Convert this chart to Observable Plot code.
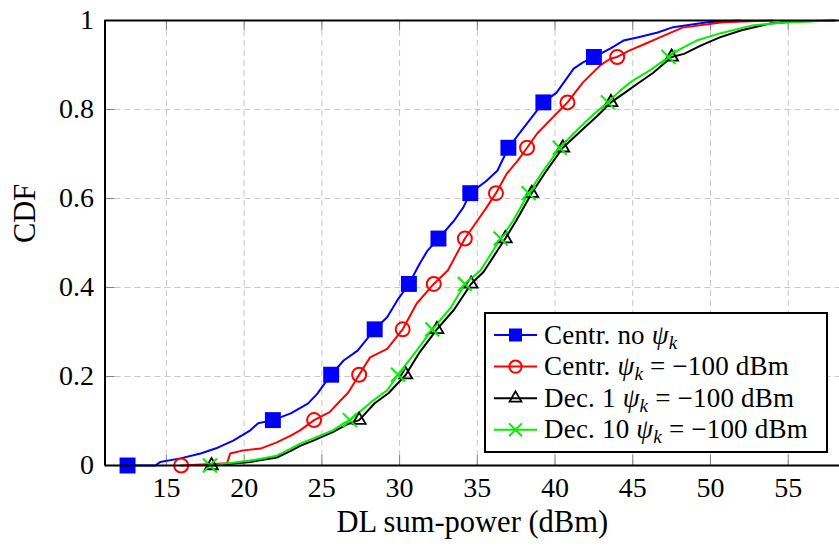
<!DOCTYPE html>
<html><head><meta charset="utf-8">
<script src="https://cdn.jsdelivr.net/npm/d3@7"></script>
<script src="https://cdn.jsdelivr.net/npm/@observablehq/plot@0.6"></script>
<style>
body{margin:0;background:#fff}
svg{font-family:"Liberation Serif",serif}
</style>
</head><body><div id="chart"></div>
<script>
// ---- data ----
const seriesNames = ["Centr. no psi", "Centr. psi=-100", "Dec. 1 psi=-100", "Dec. 10 psi=-100"];
const seriesColors = ["#0000ff", "#ff0000", "#000000", "#00f000"];
const xTicks = [15, 20, 25, 30, 35, 40, 45, 50, 55];
const yTicks = [0, 0.2, 0.4, 0.6, 0.8, 1];
const xDomain = [11.05, 58.3];

const centrNo = [[12.5,0],[14.3,0],[14.6,0.008],[15.9,0.016],[17.2,0.027],[18.3,0.04],[19.3,0.056],[20.4,0.079],[20.9,0.095],[21.85,0.102],[23.0,0.117],[24.1,0.139],[24.7,0.161],[25.3,0.19],[25.6,0.204],[26.4,0.236],[27.3,0.258],[28.4,0.306],[29.2,0.333],[29.85,0.371],[30.6,0.408],[31.3,0.454],[31.8,0.483],[32.5,0.51],[33.5,0.55],[34.1,0.58],[34.55,0.612],[35.6,0.64],[36.3,0.663],[37.0,0.714],[38.0,0.76],[39.25,0.816],[40.1,0.838],[41.2,0.892],[41.8,0.906],[42.5,0.918],[43.55,0.937],[44.4,0.955],[45.3,0.962],[46.6,0.973],[47.6,0.985],[49.8,0.996],[51.9,1.0]];
const centrPsi = [[15.95,0],[18.9,0.005],[19.1,0.027],[19.95,0.034],[21.05,0.038],[22.1,0.052],[23.0,0.067],[23.6,0.079],[24.5,0.102],[25.5,0.12],[26.2,0.146],[26.7,0.164],[27.4,0.204],[28.1,0.243],[29.2,0.262],[30.2,0.306],[31.1,0.364],[32.2,0.408],[33.1,0.438],[34.2,0.51],[35.0,0.55],[35.6,0.58],[36.2,0.612],[36.9,0.656],[37.6,0.685],[38.2,0.714],[38.85,0.746],[40.8,0.816],[41.8,0.861],[42.9,0.899],[43.55,0.914],[44.0,0.918],[44.8,0.933],[45.7,0.946],[47.0,0.966],[48.2,0.984],[50.8,0.996],[54.0,1.0]];
const dec1Psi = [[17.9,0],[20.4,0.008],[22.1,0.018],[23.0,0.033],[23.6,0.044],[24.45,0.056],[25.7,0.075],[26.6,0.092],[27.4,0.102],[28.4,0.14],[29.3,0.163],[30.4,0.204],[31.3,0.255],[32.4,0.306],[33.5,0.35],[34.6,0.408],[35.4,0.435],[36.8,0.51],[37.5,0.55],[38.5,0.612],[39.4,0.66],[40.5,0.714],[41.8,0.756],[42.7,0.785],[43.6,0.816],[44.5,0.838],[45.3,0.858],[46.3,0.882],[47.5,0.918],[48.3,0.925],[49.4,0.944],[50.6,0.962],[52.0,0.978],[53.8,0.993],[55.5,0.998],[58.0,1.0]];
const dec10Psi = [[17.8,0],[20.4,0.011],[22.1,0.022],[23.0,0.038],[23.6,0.049],[24.45,0.061],[25.7,0.079],[26.4,0.095],[26.8,0.102],[28.3,0.146],[29.2,0.169],[29.9,0.204],[31.1,0.258],[32.1,0.306],[33.3,0.355],[34.2,0.408],[35.2,0.438],[36.5,0.51],[37.3,0.55],[38.3,0.612],[39.2,0.66],[40.3,0.714],[41.6,0.76],[42.5,0.79],[43.4,0.816],[44.2,0.843],[45.0,0.865],[46.1,0.888],[47.3,0.918],[47.9,0.933],[49.1,0.955],[50.6,0.971],[52.7,0.989],[54.9,0.996],[58.0,1.0]];

const markCentrNo = [[12.5,0],[21.85,0.102],[25.6,0.204],[28.4,0.306],[30.6,0.408],[32.5,0.51],[34.55,0.612],[37.0,0.714],[39.25,0.816],[42.5,0.918]];
const markCentrPsi = [[15.95,0],[24.5,0.102],[27.4,0.204],[30.2,0.306],[32.2,0.408],[34.2,0.51],[36.2,0.612],[38.2,0.714],[40.8,0.816],[44.0,0.918]];
const markDec1 = [[17.9,0],[27.4,0.102],[30.4,0.204],[32.4,0.306],[34.6,0.408],[36.8,0.51],[38.5,0.612],[40.5,0.714],[43.6,0.816],[47.5,0.918]];
const markDec10 = [[17.8,0],[26.8,0.102],[29.9,0.204],[32.1,0.306],[34.2,0.408],[36.5,0.51],[38.3,0.612],[40.3,0.714],[43.4,0.816],[47.3,0.918]];

const legendPre = ["Centr. no ", "Centr. ", "Dec. 1 ", "Dec. 10 "];
const legendPost = ["", " = \u2212100 dBm", " = \u2212100 dBm", " = \u2212100 dBm"];
const xLabel = "DL sum-power (dBm)";
const yLabel = "CDF";

// ---- build tables ----
const curveSets = [centrNo, centrPsi, dec1Psi, dec10Psi];
const markSets = [markCentrNo, markCentrPsi, markDec1, markDec10];
const curves = curveSets.flatMap((arr, i) => arr.map(([x, y]) => ({series: seriesNames[i], x, y})));
const marks = markSets.map((arr, i) => arr.map(([x, y]) => ({series: seriesNames[i], x, y})));

const tickLenY = 10 / 445;
const tickLenX = 10 / 15.55;
const serif = "'Liberation Serif', 'Times New Roman', serif";

const plot = Plot.plot({
  width: 839, height: 547,
  marginLeft: 104.5, marginRight: 0, marginTop: 20, marginBottom: 82,
  style: {fontFamily: serif, background: "white", color: "black", overflow: "visible"},
  x: {domain: xDomain, ticks: xTicks},
  y: {domain: [0, 1], ticks: yTicks},
  color: {domain: seriesNames, range: seriesColors},
  marks: [
    Plot.gridX(xTicks, {stroke: "#c8c8c8", strokeOpacity: 1, strokeWidth: 1, strokeDasharray: "6,4"}),
    Plot.gridY(yTicks.filter(v => v > 0 && v < 1), {stroke: "#c8c8c8", strokeOpacity: 1, strokeWidth: 1, strokeDasharray: "6,4"}),
    Plot.ruleX(xTicks, {y1: 0, y2: tickLenY, stroke: "#808080", strokeWidth: 1}),
    Plot.ruleX(xTicks, {y1: 1 - tickLenY, y2: 1, stroke: "#808080", strokeWidth: 1}),
    Plot.ruleY(yTicks, {x1: xDomain[0], x2: xDomain[0] + tickLenX, stroke: "#808080", strokeWidth: 1}),
    Plot.line(curves, {x: "x", y: "y", z: "series", stroke: "series", strokeWidth: 2}),
    Plot.dot(marks[0], {x: "x", y: "y", symbol: "square", r: 9, fill: seriesColors[0], stroke: "none"}),
    Plot.dot(marks[1], {x: "x", y: "y", symbol: "circle", r: 7, fill: "none", stroke: seriesColors[1], strokeWidth: 2}),
    Plot.dot(marks[2], {x: "x", y: "y", symbol: "triangle", r: 4.8, fill: "none", stroke: seriesColors[2], strokeWidth: 1.8}),
    Plot.dot(marks[3], {x: "x", y: "y", symbol: "times", r: 6.4, fill: "none", stroke: seriesColors[3], strokeWidth: 2}),
    Plot.ruleY([0, 1], {stroke: "black", strokeWidth: 2}),
    Plot.ruleX([xDomain[0]], {stroke: "black", strokeWidth: 2}),
    Plot.axisX(xTicks, {tickSize: 0, tickPadding: 12, fontSize: 28, label: null}),
    Plot.axisY(yTicks, {tickSize: 0, tickPadding: 11, fontSize: 28, label: null, tickFormat: d => String(d)}),
    Plot.text([xLabel], {frameAnchor: "bottom", dy: 57, fontSize: 30.5, lineAnchor: "middle"}),
    Plot.text([yLabel], {frameAnchor: "left", dx: -80, rotate: -90, fontSize: 30.5, lineAnchor: "middle"})
  ]
});

// ---- legend (inside the plot frame) ----
const svg = d3.select(plot);
const lg = svg.append("g").attr("class", "legend").attr("text-anchor", "start")
  .attr("font-family", serif).style("font-family", serif);
lg.append("rect").attr("x", 485).attr("y", 313).attr("width", 342).attr("height", 139)
  .attr("fill", "white").attr("stroke", "black").attr("stroke-width", 2);
const symbols = [d3.symbolSquare, d3.symbolCircle, d3.symbolTriangle, d3.symbolTimes];
const symSizes = [170, 120, 60, 110];
seriesNames.forEach((name, i) => {
  const cy = 335 + i * 31.6;
  lg.append("line").attr("x1", 494).attr("x2", 537).attr("y1", cy).attr("y2", cy)
    .attr("stroke", seriesColors[i]).attr("stroke-width", 2);
  lg.append("path").attr("transform", `translate(515.5,${cy})`)
    .attr("d", d3.symbol(symbols[i], symSizes[i])())
    .attr("fill", i === 0 ? seriesColors[0] : "none")
    .attr("stroke", i === 0 ? "none" : seriesColors[i])
    .attr("stroke-width", i === 2 ? 1.8 : 2);
  const t = lg.append("text").attr("x", 544).attr("y", cy + 8.5)
    .attr("fill", "black").attr("text-anchor", "start")
    .style("font-family", serif).style("font-size", "27px").style("letter-spacing", "0.2px").style("white-space", "pre");
  t.append("tspan").text(legendPre[i]);
  t.append("tspan").style("font-style", "italic").text("\u03C8");
  t.append("tspan").style("font-style", "italic").style("font-size", "19px").attr("dy", 5).text("k");
  if (legendPost[i]) t.append("tspan").attr("dy", -5).text(legendPost[i]);
});

document.getElementById("chart").appendChild(plot);
</script>
</body></html>
